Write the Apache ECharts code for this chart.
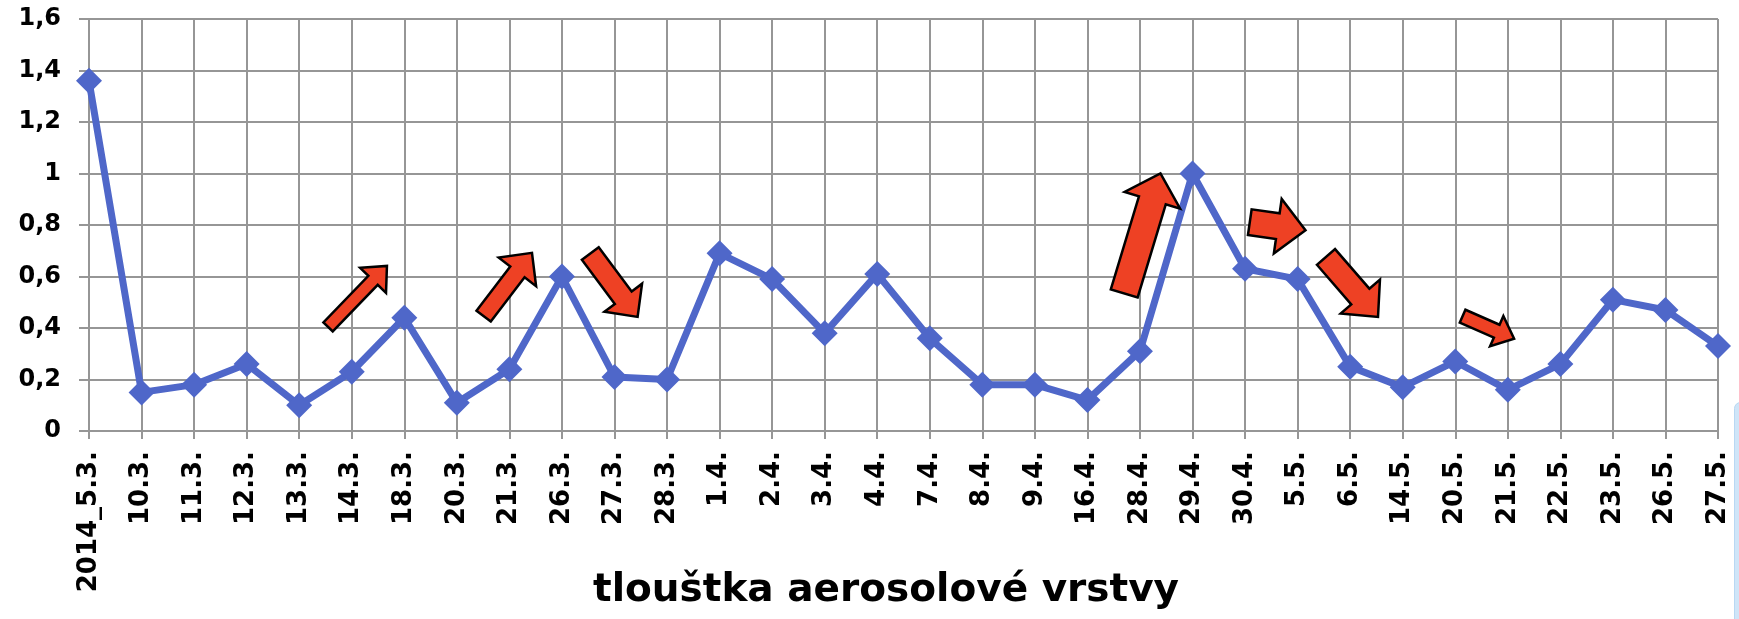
<!DOCTYPE html>
<html>
<head>
<meta charset="utf-8">
<script src="https://cdn.jsdelivr.net/npm/echarts@6/dist/echarts.min.js"></script>
<style>
  html, body { margin: 0; padding: 0; background: #fff; }
  #chart { width: 1739px; height: 619px; }
</style>
</head>
<body>
<div id="chart"></div>
<script>
const dates = [
  "2014_5.3.", "10.3.", "11.3.", "12.3.", "13.3.", "14.3.", "18.3.", "20.3.",
  "21.3.", "26.3.", "27.3.", "28.3.", "1.4.", "2.4.", "3.4.", "4.4.",
  "7.4.", "8.4.", "9.4.", "16.4.", "28.4.", "29.4.", "30.4.", "5.5.",
  "6.5.", "14.5.", "20.5.", "21.5.", "22.5.", "23.5.", "26.5.", "27.5."
];
const thickness = [
  1.36, 0.15, 0.18, 0.26, 0.10, 0.23, 0.44, 0.11,
  0.24, 0.60, 0.21, 0.20, 0.69, 0.59, 0.38, 0.61,
  0.36, 0.18, 0.18, 0.12, 0.31, 1.00, 0.63, 0.59,
  0.25, 0.17, 0.27, 0.16, 0.26, 0.51, 0.47, 0.33
];
// red annotation arrows: tail (category index, value) -> tip (category index, value)
const arrowTails = [[4.55, 0.404], [7.51, 0.446], [9.54, 0.689], [19.70, 0.534], [22.09, 0.811], [23.54, 0.676], [26.14, 0.446]];
const arrowTips  = [[5.67, 0.641], [8.43, 0.692], [10.44, 0.443], [20.39, 1.0], [23.15, 0.780], [24.53, 0.443], [27.12, 0.358]];
// shaft width, head width, head length (px)
const arrowShapes = [[13, 36, 20], [18, 47, 24], [21, 47, 24], [28, 58, 28], [26, 55, 28], [24, 52, 27], [14, 33, 19]];

const axisName = "tlouštka aerosolové vrstvy";

const chart = echarts.init(document.getElementById("chart"));
const gridColor = "#969696";
const font = "DejaVu Sans";

const arrowData = arrowTails.map((t, i) => [t[0], t[1], arrowTips[i][0], arrowTips[i][1]].concat(arrowShapes[i]));

chart.setOption({
  animation: false,
  backgroundColor: "#fff",
  title: {
    text: axisName,
    left: 588,
    top: 566,
    textStyle: { fontFamily: font, fontWeight: "bold", fontSize: 39, color: "#000" }
  },
  grid: { left: 89, right: 21, top: 19, bottom: 188, containLabel: false },
  xAxis: [{
    type: "category",
    data: dates,
    boundaryGap: false,
    axisLine: { lineStyle: { color: gridColor, width: 2 } },
    axisTick: { show: true, length: 8, interval: 0, lineStyle: { color: gridColor, width: 2 } },
    axisLabel: {
      interval: 0, rotate: 90, margin: 20,
      fontFamily: font, fontWeight: "bold", fontSize: 26, color: "#000"
    },
    splitLine: { show: true, interval: 0, lineStyle: { color: gridColor, width: 2 } }
  }, {
    type: "value", min: 0, max: dates.length - 1, show: false
  }],
  yAxis: {
    type: "value",
    min: 0, max: 1.6, interval: 0.2,
    axisLine: { show: true, lineStyle: { color: gridColor, width: 2 } },
    axisTick: { show: true, length: 10, lineStyle: { color: gridColor, width: 2 } },
    axisLabel: {
      margin: 28,
      fontFamily: font, fontWeight: "bold", fontSize: 24, color: "#000",
      formatter: v => String(Math.round(v * 10) / 10).replace(".", ",")
    },
    splitLine: { show: true, lineStyle: { color: gridColor, width: 2 } }
  },
  series: [{
    type: "line",
    data: thickness,
    symbol: "diamond",
    symbolSize: 26,
    lineStyle: { color: "#4F67C9", width: 7 },
    itemStyle: { color: "#4F67C9" },
    z: 3
  }, {
    type: "custom",
    xAxisIndex: 1,
    data: arrowData,
    encode: { x: [0, 2], y: [1, 3] },
    silent: true,
    z: 5,
    renderItem: function (params, api) {
      const t = api.coord([api.value(0), api.value(1)]);
      const p = api.coord([api.value(2), api.value(3)]);
      const sw = api.value(4) / 2, hw = api.value(5) / 2, hl = api.value(6);
      const dx = p[0] - t[0], dy = p[1] - t[1];
      const len = Math.hypot(dx, dy);
      const ux = dx / len, uy = dy / len, nx = -uy, ny = ux;
      const bx = p[0] - ux * hl, by = p[1] - uy * hl;
      const pts = [
        [t[0] + nx * sw, t[1] + ny * sw],
        [bx + nx * sw, by + ny * sw],
        [bx + nx * hw, by + ny * hw],
        p,
        [bx - nx * hw, by - ny * hw],
        [bx - nx * sw, by - ny * sw],
        [t[0] - nx * sw, t[1] - ny * sw]
      ];
      return {
        type: "polygon",
        shape: { points: pts },
        style: { fill: "#EE4124", stroke: "#000", lineWidth: 2.5, lineJoin: "miter" }
      };
    }
  }],
  graphic: [{
    type: "rect",
    left: 1734, top: 402,
    shape: { width: 10, height: 230, r: [6, 0, 0, 0] },
    style: { fill: "#cfe5f8", stroke: "#b8d8f3", lineWidth: 1 }
  }]
});
</script>
</body>
</html>
